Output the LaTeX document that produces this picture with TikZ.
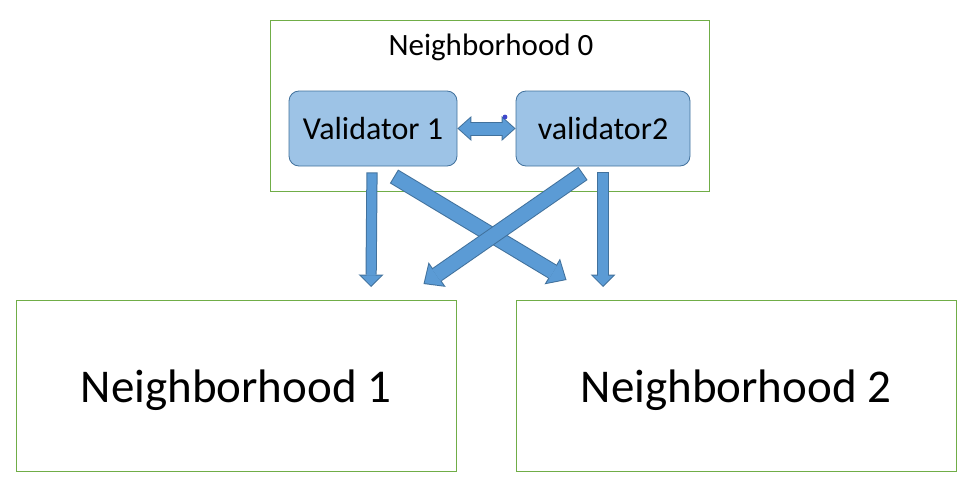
\documentclass[tikz,border=0pt]{standalone}
\usepackage{fontspec}
\setmainfont{Carlito}
\usepackage{tikz}
\usetikzlibrary{arrows.meta}

\definecolor{hoodline}{HTML}{70AD47}
\definecolor{valfill}{HTML}{9DC3E6}
\definecolor{valline}{HTML}{41719C}
\definecolor{arrowfill}{HTML}{5B9BD5}
\definecolor{arrowline}{HTML}{41719C}
\definecolor{dotblue}{HTML}{3F48CC}

\tikzset{
  hood/.style={draw=hoodline, line width=0.5pt, minimum width=220pt, minimum height=85.5pt, inner sep=0pt, text depth=0pt},
  validator/.style={draw=valline, fill=valfill, line width=0.4pt, rounded corners=5pt, minimum height=37.5pt, inner sep=0pt, font=\fontsize{16}{19}\selectfont},
  down arrow/.style={draw=arrowline, line width=5.6pt, -{Triangle[length=6.2pt, width=12.4pt, line width=0pt]},
    postaction={draw=arrowfill, line width=4.6pt, shorten <=0.5pt, shorten >=0.7pt, -{Triangle[length=5pt, width=10pt, line width=0pt]}}},
  cross arrow/.style={draw=arrowline, line width=8pt, -{Triangle[length=8.3pt, width=15pt, line width=0pt]},
    postaction={draw=arrowfill, line width=7pt, shorten <=0.5pt, shorten >=0.76pt, -{Triangle[length=7pt, width=12.8pt, line width=0pt]}}},
  swap arrow/.style={draw=arrowline, line width=7pt, {Triangle[length=7pt, width=12.5pt, line width=0pt]}-{Triangle[length=7pt, width=12.5pt, line width=0pt]},
    postaction={draw=arrowfill, line width=6pt, shorten <=0.76pt, shorten >=0.76pt, {Triangle[length=5.7pt, width=10.3pt, line width=0pt]}-{Triangle[length=5.7pt, width=10.3pt, line width=0pt]}}},
}

\begin{document}
\begin{tikzpicture}[x=0.5pt, y=-0.5pt]
  \useasboundingbox (0,0) rectangle (975,498);
  % neighborhoods
  \node[hood, minimum width=219.5pt] (hood0) at (489.5,105.5) {};
  \node[font=\fontsize{15.5}{19}\selectfont, anchor=base, inner sep=0pt] (title0) at (491,55) {Neighborhood 0};
  \node[hood, font=\fontsize{23.5}{28}\selectfont] (hood1) at (236,386) {Neighborhood 1};
  \node[hood, font=\fontsize{23.5}{28}\selectfont] (hood2) at (736,386) {Neighborhood 2};
  % validators
  \node[validator, minimum width=84pt] (val1) at (373,128.5) {Validator 1};
  \node[validator, minimum width=87pt] (val2) at (603,128.5) {validator2};
  % arrows
  \draw[swap arrow] (val1.east) -- (val2.west);
  \fill[dotblue] (505,117) circle (1.2pt);
  \draw[down arrow] ([shift={(-1,6)}]val1.south) -- ([shift={(135,-13)}]hood1.north);
  \draw[down arrow] ([shift={(0,6)}]val2.south) -- ([shift={(-133,-13)}]hood2.north);
  \draw[cross arrow] ([shift={(21,10)}]val1.south) -- ([shift={(51,-20)}]hood2.north west);
  \draw[cross arrow] ([shift={(-20,7)}]val2.south) -- ([shift={(-33,-16)}]hood1.north east);
\end{tikzpicture}
\end{document}
